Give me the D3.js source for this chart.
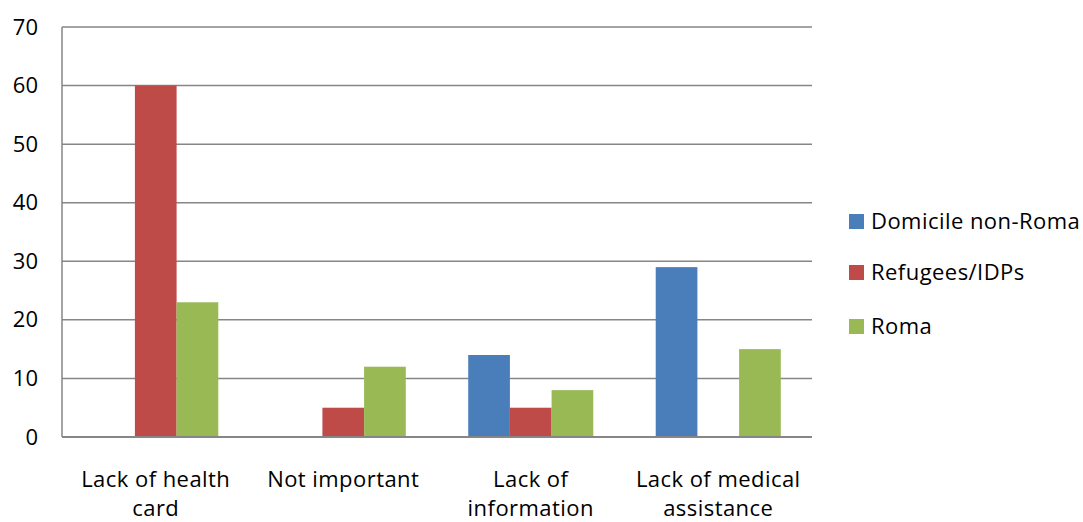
<!DOCTYPE html>
<html><head><meta charset="utf-8">
<script src="https://cdn.jsdelivr.net/npm/d3@7"></script>
<style>body{margin:0;background:#fff}svg{display:block}text{font-family:"Open Sans",sans-serif;fill:#000}</style>
</head><body>
<svg id="c" width="1083" height="522"></svg>
<script>
const categories = [["Lack of health","card"],["Not important"],["Lack of","information"],["Lack of medical","assistance"]];
const seriesNames = ["Domicile non-Roma","Refugees/IDPs","Roma"];
const domicileNonRoma = [0, 0, 14, 29];
const refugeesIDPs = [60, 5, 5, 0];
const roma = [23, 12, 8, 15];
const yTicks = [0,10,20,30,40,50,60,70];
const colors = ["#4a7ebb","#be4b48","#98b954"];
const series = [domicileNonRoma, refugeesIDPs, roma];
const FS = 22, LS = "0.45px";

const svg = d3.select("#c");
const L = 62, R = 812, T = 27, B = 437;
const x = d3.scaleBand().domain(d3.range(categories.length)).range([L,R]).paddingInner(0.333).paddingOuter(0.1665);
const xs = d3.scaleBand().domain(d3.range(series.length)).range([0, x.bandwidth()]);
const y = d3.scaleLinear().domain([0,70]).range([B,T]);

svg.append("g").selectAll("line").data(yTicks.filter(d=>d>0)).join("line")
  .attr("x1",L).attr("x2",R).attr("y1",d=>y(d)).attr("y2",d=>y(d))
  .attr("stroke","#868686").attr("stroke-width",1.5);

const yAxis = d3.axisLeft(y).tickValues(yTicks).tickSize(0).tickPadding(24);
const ga = svg.append("g").attr("transform",`translate(${L},0)`).call(yAxis);
ga.select(".domain").remove();
ga.selectAll("text").attr("font-size",FS).style("font-family","'Open Sans',sans-serif").attr("fill","#000");

series.forEach((s,i)=>{
  svg.append("g").selectAll("rect").data(s.map((v,j)=>({v,j}))).join("rect")
    .filter(d=>d.v>0)
    .attr("x",d=>x(d.j)+xs(i)).attr("width",xs.bandwidth())
    .attr("y",d=>y(d.v)).attr("height",d=>B-y(d.v))
    .attr("fill",colors[i]);
});

svg.append("line").attr("x1",L).attr("x2",L).attr("y1",T).attr("y2",B).attr("stroke","#868686").attr("stroke-width",1.5);
svg.append("line").attr("x1",L).attr("x2",R).attr("y1",B).attr("y2",B).attr("stroke","#868686").attr("stroke-width",2);

const cw = (R-L)/categories.length;
categories.forEach((lines,j)=>{
  const cx = L + cw*(j+0.5);
  const t = svg.append("text").attr("text-anchor","middle").attr("font-size",FS).style("letter-spacing",LS);
  lines.forEach((ln,k)=>t.append("tspan").attr("x",cx).attr("y",487+k*29).text(ln));
});

const ly = [221,272,326];
seriesNames.forEach((n,i)=>{
  svg.append("rect").attr("x",849).attr("y",ly[i]-7).attr("width",15).attr("height",15).attr("fill",colors[i]);
  svg.append("text").attr("x",871).attr("y",ly[i]+8).attr("font-size",FS).style("letter-spacing",LS).text(n);
});
</script>
</body></html>
